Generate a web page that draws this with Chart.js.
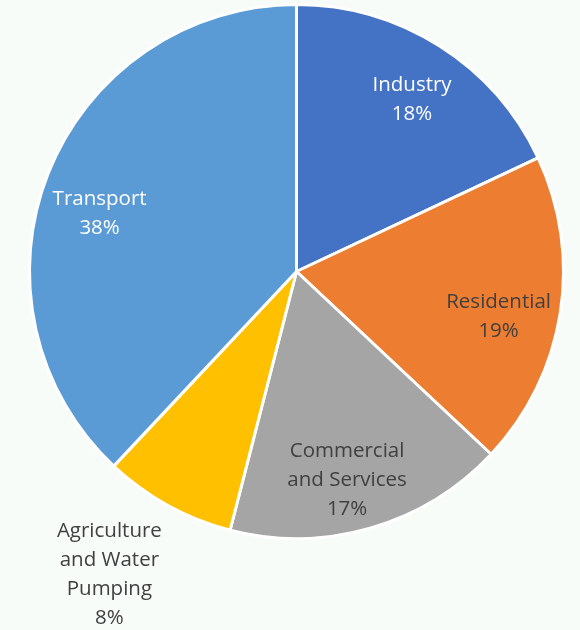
<!DOCTYPE html>
<html>
<head>
<meta charset="utf-8">
<script src="https://cdn.jsdelivr.net/npm/chart.js@4.4.1/dist/chart.umd.min.js"></script>
<style>
  html, body { margin: 0; padding: 0; background: #F8FCF8; }
  #wrap { width: 580px; height: 630px; }
</style>
</head>
<body>
<div id="wrap"><canvas id="pie" width="580" height="630"></canvas></div>
<script>
// Energy consumption by sector (share, %)
const sectors = ['Industry', 'Residential', 'Commercial and Services', 'Agriculture and Water Pumping', 'Transport'];
const labelLines = [['Industry'], ['Residential'], ['Commercial', 'and Services'], ['Agriculture', 'and Water', 'Pumping'], ['Transport']];
const shares = [18, 19, 17, 8, 38];

const sliceColors = ['#4472C4', '#ED7D31', '#A5A5A5', '#FFC000', '#5B9BD5'];
const textColors = ['#FFFFFF', '#404040', '#404040', '#404040', '#FFFFFF'];
// radial distance (fraction of radius) and angle nudge (degrees) for each label
const labelRadius = [0.78, 0.775, 0.80, 1.33, 0.77];
const labelNudge = [1.3, 3.4, 2.5, 3.0, -4.9];

const FONT = '20.5px "Open Sans", "Liberation Sans", sans-serif';
const LINE_H = 29;

const sliceLabels = {
  id: 'sliceLabels',
  afterDatasetsDraw(chart) {
    const ctx = chart.ctx;
    const meta = chart.getDatasetMeta(0);
    ctx.save();
    ctx.font = FONT;
    ctx.textAlign = 'center';
    ctx.textBaseline = 'middle';
    meta.data.forEach((arc, i) => {
      const p = arc.getProps(['x', 'y', 'startAngle', 'endAngle', 'outerRadius'], true);
      const mid = (p.startAngle + p.endAngle) / 2 + labelNudge[i] * Math.PI / 180;
      const r = p.outerRadius * labelRadius[i];
      const cx = p.x + Math.cos(mid) * r;
      const cy = p.y + Math.sin(mid) * r + 1;
      const lines = labelLines[i].concat([shares[i] + '%']);
      const top = cy - (lines.length - 1) * LINE_H / 2;
      ctx.fillStyle = textColors[i];
      lines.forEach((t, k) => ctx.fillText(t, cx, top + k * LINE_H));
    });
    ctx.restore();
  }
};

new Chart(document.getElementById('pie'), {
  type: 'pie',
  data: {
    labels: sectors,
    datasets: [{
      data: shares,
      backgroundColor: sliceColors,
      borderColor: '#FFFFFF',
      borderWidth: 3,
      hoverOffset: 0
    }]
  },
  options: {
    responsive: false,
    animation: false,
    radius: 267,
    layout: { padding: { left: 13, right: 0, top: 0, bottom: 87 } },
    plugins: {
      legend: { display: false },
      tooltip: { enabled: false }
    },
    events: []
  },
  plugins: [sliceLabels]
});
</script>
</body>
</html>
